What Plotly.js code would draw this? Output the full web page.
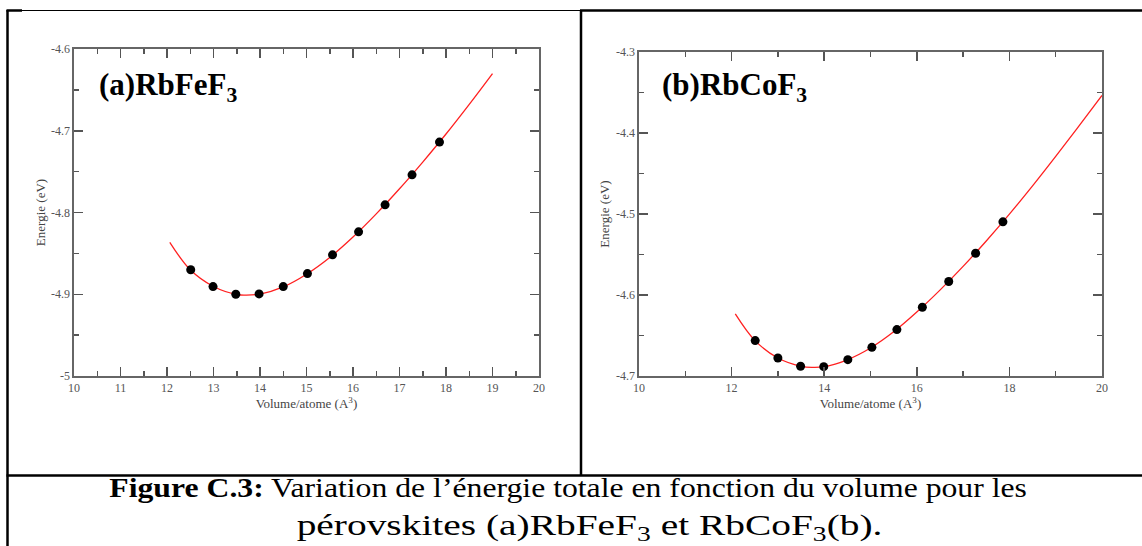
<!DOCTYPE html>
<html>
<head>
<meta charset="utf-8">
<script src="https://cdn.plot.ly/plotly-3.0.1.min.js"></script>
<style>html,body{margin:0;padding:0;background:#fff;}#chart{width:1142px;height:546px;}</style>
</head>
<body>
<div id="chart"></div>
<script>
// ---- Data ----
// (a) RbFeF3 : computed points
const volA = [12.51, 12.99, 13.48, 13.98, 14.50, 15.02, 15.56, 16.12, 16.69, 17.27, 17.86];
const enA  = [-4.870, -4.8906, -4.900, -4.8996, -4.8906, -4.8747, -4.8518, -4.8237, -4.7906, -4.7539, -4.7139];
// (a) fitted curve
const fitVolA = [12.06, 12.5, 13.0, 13.5, 13.7, 14.0, 14.5, 15.0, 15.5, 16.0, 16.5, 17.0, 17.5, 18.0, 18.5, 19.0];
const fitEnA  = [-4.8365, -4.870, -4.8905, -4.9003, -4.9010, -4.8998, -4.891, -4.8755, -4.855, -4.830, -4.8017, -4.771, -4.7383, -4.704, -4.6677, -4.6300];

// (b) RbCoF3 : computed points
const volB = [12.51, 13.00, 13.49, 13.99, 14.51, 15.03, 15.57, 16.12, 16.69, 17.27, 17.86];
const enB  = [-4.6563, -4.6778, -4.6880, -4.6885, -4.6798, -4.6646, -4.6427, -4.6151, -4.5834, -4.5484, -4.5097];
// (b) fitted curve
const fitVolB = [12.08, 12.5, 13.0, 13.5, 13.75, 14.0, 14.5, 15.0, 15.5, 16.0, 16.5, 17.0, 17.5, 18.0, 18.5, 19.0, 19.5, 20.0];
const fitEnB  = [-4.6234, -4.6560, -4.6778, -4.6880, -4.6893, -4.6885, -4.6800, -4.6655, -4.6455, -4.6211, -4.5940, -4.5647, -4.5333, -4.5002, -4.4653, -4.4289, -4.3915, -4.3536];

// Tick labels
const xTicksA = [10, 11, 12, 13, 14, 15, 16, 17, 18, 19, 20];
const xTextA  = ['10', '11', '12', '13', '14', '15', '16', '17', '18', '19', '20'];
const yTicksA = [-5, -4.9, -4.8, -4.7, -4.6];
const yTextA  = ['-5', '-4.9', '-4.8', '-4.7', '-4.6'];
const xTicksB = [10, 12, 14, 16, 18, 20];
const xTextB  = ['10', '12', '14', '16', '18', '20'];
const yTicksB = [-4.7, -4.6, -4.5, -4.4, -4.3];
const yTextB  = ['-4.7', '-4.6', '-4.5', '-4.4', '-4.3'];

const panelA = '(a)RbFeF<sub>3</sub>';
const panelB = '(b)RbCoF<sub>3</sub>';
const yTitle = 'Energie (eV)';
const xTitle = 'Volume/atome (A<sup>3</sup>)';
const caption1 = '<b>Figure C.3:</b> Variation de l’énergie totale en fonction du volume pour les';
const caption2 = 'pérovskites (a)RbFeF<sub>3</sub> et RbCoF<sub>3</sub>(b).';

// ---- Layout helpers ----
const W = 1142, H = 546;
const px = v => v / W;
const py = v => 1 - v / H;
const serif = 'Liberation Serif, Times New Roman, serif';

function axisBase(domain, range, tickvals, ticktext, minorD, title, standoff) {
  return {
    domain: domain, range: range, tickmode: 'array', tickvals: tickvals, ticktext: ticktext,
    ticks: 'inside', ticklen: 9, tickwidth: 1.5, tickcolor: '#555',
    minor: {ticks: 'inside', dtick: minorD, ticklen: 5, tickwidth: 1.5, tickcolor: '#555', showgrid: false},
    showline: true, linecolor: '#666', linewidth: 1.6, mirror: 'allticks',
    showgrid: false, zeroline: false, fixedrange: true,
    tickfont: {family: serif, size: 12, color: '#555'},
    title: {text: title, font: {family: serif, size: 13, color: '#444'}, standoff: standoff}
  };
}

const traces = [
  {x: fitVolA, y: fitEnA, xaxis: 'x', yaxis: 'y', mode: 'lines', line: {color: '#ff2020', width: 1.3, shape: 'spline'}, hoverinfo: 'skip'},
  {x: volA, y: enA, xaxis: 'x', yaxis: 'y', mode: 'markers', marker: {color: '#000', size: 9}},
  {x: fitVolB, y: fitEnB, xaxis: 'x2', yaxis: 'y2', mode: 'lines', line: {color: '#ff2020', width: 1.3, shape: 'spline'}, hoverinfo: 'skip'},
  {x: volB, y: enB, xaxis: 'x2', yaxis: 'y2', mode: 'markers', marker: {color: '#000', size: 9}}
];

const layout = {
  width: W, height: H, margin: {l: 0, r: 0, t: 0, b: 0},
  paper_bgcolor: '#fff', plot_bgcolor: '#fff', showlegend: false,
  xaxis:  Object.assign(axisBase([px(74), px(539)], [10, 20], xTicksA, xTextA, 0.5, xTitle, 5), {anchor: 'y'}),
  yaxis:  Object.assign(axisBase([1 - 376 / H, 1 - 49 / H], [-5, -4.6], yTicksA, yTextA, 0.05, yTitle, 2), {anchor: 'x'}),
  xaxis2: Object.assign(axisBase([px(639), px(1102)], [10, 20], xTicksB, xTextB, 1, xTitle, 5), {anchor: 'y2'}),
  yaxis2: Object.assign(axisBase([1 - 376 / H, 1 - 52 / H], [-4.7, -4.3], yTicksB, yTextB, 0.05, yTitle, 3), {anchor: 'x2'}),
  shapes: [
    // table borders
    {type: 'line', xref: 'paper', yref: 'paper', x0: px(7.5), x1: px(7.5), y0: py(10), y1: py(546), line: {color: '#000', width: 2.5}},
    {type: 'line', xref: 'paper', yref: 'paper', x0: px(6.5), x1: px(22), y0: py(10.5), y1: py(10.5), line: {color: '#000', width: 2.5}},
    {type: 'line', xref: 'paper', yref: 'paper', x0: px(22), x1: px(580), y0: py(10.5), y1: py(10.5), line: {color: '#000', width: 1}},
    {type: 'line', xref: 'paper', yref: 'paper', x0: px(580), x1: px(1142), y0: py(10.5), y1: py(10.5), line: {color: '#000', width: 2.5}},
    {type: 'line', xref: 'paper', yref: 'paper', x0: px(581), x1: px(581), y0: py(10), y1: py(475.5), line: {color: '#000', width: 2.5}},
    {type: 'line', xref: 'paper', yref: 'paper', x0: px(6.5), x1: px(1142), y0: py(475.5), y1: py(475.5), line: {color: '#000', width: 2.5}}
  ],
  annotations: [
    {text: panelA, xref: 'paper', yref: 'paper', x: px(97), y: py(87), xanchor: 'left', yanchor: 'middle', showarrow: false,
     font: {family: serif, size: 31, color: '#000', weight: 'bold'}},
    {text: panelB, xref: 'paper', yref: 'paper', x: px(660), y: py(87), xanchor: 'left', yanchor: 'middle', showarrow: false,
     font: {family: serif, size: 31, color: '#000', weight: 'bold'}},
    {text: caption1, xref: 'paper', yref: 'paper', x: px(568), y: py(487), xanchor: 'center', yanchor: 'middle', showarrow: false,
     font: {family: serif, size: 28, color: '#000'}},
    {text: caption2, xref: 'paper', yref: 'paper', x: px(589), y: py(527), xanchor: 'center', yanchor: 'middle', showarrow: false,
     font: {family: serif, size: 29, color: '#000'}}
  ]
};

// target widths of the two caption lines as measured on the reference
const captionWidths = [918, 586];

Plotly.newPlot('chart', traces, layout, {staticPlot: true, displayModeBar: false}).then(function (gd) {
  const groups = gd.querySelectorAll('g.annotation');
  [2, 3].forEach(function (idx, k) {
    const g = groups[idx];
    if (!g) return;
    const t = g.querySelector('text.annotation-text');
    if (!t) return;
    const bb = t.getBBox();
    if (!bb.width) return;
    const s = captionWidths[k] / bb.width;
    const cx = bb.x + bb.width / 2;
    t.setAttribute('transform', 'translate(' + cx + ',0) scale(' + s + ',1) translate(' + (-cx) + ',0)');
  });
});
</script>
</body>
</html>
